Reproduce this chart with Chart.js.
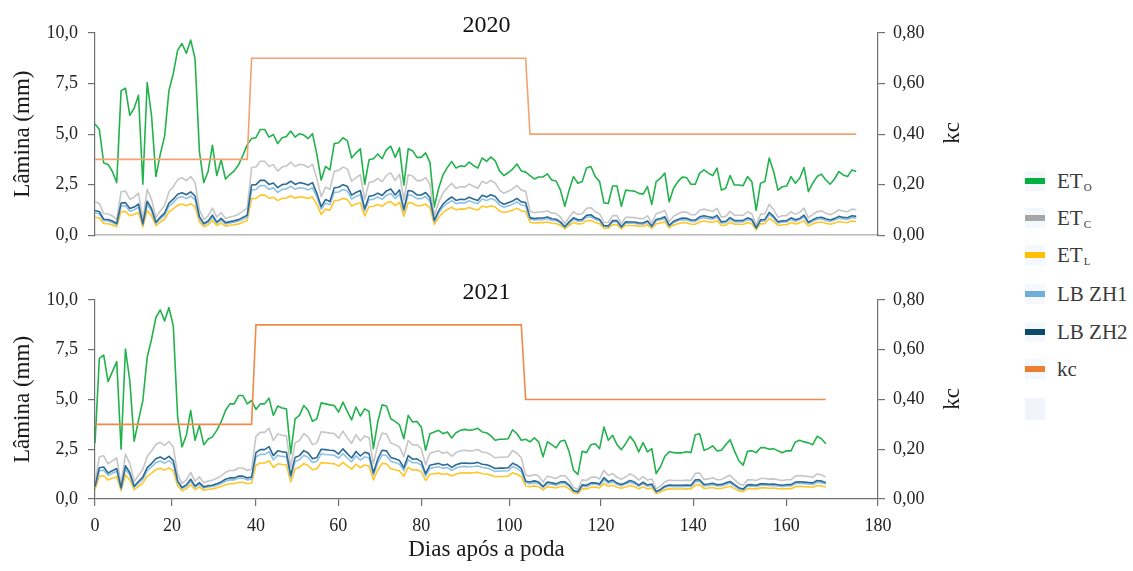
<!DOCTYPE html>
<html><head><meta charset="utf-8">
<script src="https://cdn.jsdelivr.net/npm/chart.js@4.4.1/dist/chart.umd.min.js"></script>
<style>
html,body{margin:0;padding:0;background:#fff;}
body{width:1133px;height:571px;position:relative;overflow:hidden;font-family:'Liberation Serif','Times New Roman',serif;}
.cv{position:absolute;left:0;}
.kc{position:absolute;left:951px;font-size:23px;color:#1a1a1a;transform:translate(-50%,-50%) rotate(-90deg);white-space:nowrap;line-height:1;}
.sw{position:absolute;left:1025px;width:20px;height:20px;background:#f4f8fc;}
.sw i{position:absolute;left:0;top:7px;width:20px;height:6px;display:block;}
.lt{position:absolute;left:1057px;font-size:21px;color:#3a3a3a;line-height:1;transform:translateY(-50%);white-space:nowrap;}
.lt sub{font-size:11px;vertical-align:baseline;position:relative;top:3px;margin-left:1px;}
</style></head>
<body>
<canvas id="c1" class="cv" style="top:0px" width="1000" height="256"></canvas>
<canvas id="c2" class="cv" style="top:267px" width="1000" height="304"></canvas>
<div class="kc" style="top:133px">kc</div>
<div class="kc" style="top:399px">kc</div>
<div id="legend"></div>
<script>
// ---- data ----
const xTickLabels = ['0','20','40','60','80','100','120','140','160','180'];
const xTickAt = [0,17.7,37.0,55.9,75.0,95.2,116.3,137.5,158.9,180];

const eto2020 = [5.5,5.23,3.57,3.5,3.15,2.6,7.15,7.27,5.93,6.28,
6.92,2.52,7.55,5.9,2.9,4.0,4.9,7.15,8.0,9.15,
9.48,9.0,9.65,8.73,4.15,2.6,3.15,4.45,2.95,3.73,
2.78,3.0,3.18,3.48,3.95,4.48,4.78,4.82,5.23,5.23,
4.85,4.98,4.53,4.82,4.88,5.15,4.85,5.02,4.95,4.78,
5.02,4.0,2.73,3.4,3.23,4.53,4.57,4.82,4.68,3.82,
4.07,4.27,2.52,3.73,3.78,4.02,3.78,4.23,4.4,3.85,
4.32,2.48,4.27,4.18,3.85,3.85,4.07,3.6,1.4,2.32,
2.98,3.35,3.65,3.32,3.43,3.4,3.62,3.45,3.32,3.82,
3.65,3.87,3.68,3.18,2.95,3.1,3.27,3.52,3.18,3.12,
2.95,2.78,2.88,2.88,3.03,2.73,2.68,2.23,1.43,2.23,
2.9,2.57,2.65,3.32,3.4,2.9,2.65,1.6,1.57,2.43,
2.43,1.43,2.23,2.2,2.18,2.07,2.03,2.4,1.52,2.65,
2.82,3.07,1.65,2.32,2.65,2.87,2.85,2.52,2.52,3.07,
3.23,3.07,2.95,3.32,2.23,2.32,2.95,2.48,2.48,2.45,
2.9,2.65,1.23,2.57,2.65,3.82,3.15,2.23,2.4,2.43,
2.9,2.57,2.82,3.35,2.15,2.57,2.9,3.02,2.73,2.52,
2.78,3.15,2.98,2.9,3.23,3.15];

const etc2020 = [1.65,1.57,1.07,1.05,0.95,0.78,2.15,2.18,1.78,1.88,
2.08,0.76,2.27,1.77,0.87,1.2,1.47,2.15,2.4,2.75,
2.84,2.7,2.9,2.62,1.25,0.78,0.95,1.34,0.89,1.12,
0.83,0.9,0.95,1.04,1.19,1.34,3.35,3.37,3.66,3.66,
3.4,3.49,3.17,3.37,3.42,3.61,3.4,3.51,3.47,3.35,
3.51,2.8,1.91,2.38,2.26,3.17,3.2,3.37,3.28,2.67,
2.85,2.99,1.76,2.61,2.65,2.81,2.65,2.96,3.08,2.7,
3.02,1.74,2.99,2.93,2.7,2.7,2.85,2.52,0.98,1.62,
2.09,2.35,2.56,2.32,2.4,2.38,2.53,2.42,2.32,2.67,
2.56,2.71,2.58,2.23,2.07,2.17,2.29,2.46,2.23,2.18,
1.18,1.11,1.15,1.15,1.21,1.09,1.07,0.89,0.57,0.89,
1.16,1.03,1.06,1.33,1.36,1.16,1.06,0.64,0.63,0.97,
0.97,0.57,0.89,0.88,0.87,0.83,0.81,0.96,0.61,1.06,
1.13,1.23,0.66,0.93,1.06,1.15,1.14,1.01,1.01,1.23,
1.29,1.23,1.18,1.33,0.89,0.93,1.18,0.99,0.99,0.98,
1.16,1.06,0.49,1.03,1.06,1.53,1.26,0.89,0.96,0.97,
1.16,1.03,1.13,1.34,0.86,1.03,1.16,1.21,1.09,1.01,
1.11,1.26,1.19,1.16,1.29,1.26];

const etl2020 = [0.89,0.85,0.58,0.57,0.51,0.42,1.16,1.18,0.96,1.02,
1.12,0.41,1.22,0.96,0.47,0.65,0.79,1.16,1.3,1.48,
1.54,1.46,1.56,1.41,0.67,0.42,0.51,0.72,0.48,0.6,
0.45,0.49,0.52,0.56,0.64,0.73,1.81,1.82,1.98,1.98,
1.83,1.88,1.71,1.82,1.84,1.95,1.83,1.9,1.87,1.81,
1.9,1.51,1.03,1.29,1.22,1.71,1.73,1.82,1.77,1.44,
1.54,1.61,0.95,1.41,1.43,1.52,1.43,1.6,1.66,1.46,
1.63,0.94,1.61,1.58,1.46,1.46,1.54,1.36,0.53,0.88,
1.13,1.27,1.38,1.25,1.3,1.29,1.37,1.3,1.25,1.44,
1.38,1.46,1.39,1.2,1.12,1.17,1.24,1.33,1.2,1.18,
0.64,0.6,0.62,0.62,0.65,0.59,0.58,0.48,0.31,0.48,
0.63,0.56,0.57,0.72,0.73,0.63,0.57,0.35,0.34,0.52,
0.52,0.31,0.48,0.48,0.47,0.45,0.44,0.52,0.33,0.57,
0.61,0.66,0.36,0.5,0.57,0.62,0.62,0.54,0.54,0.66,
0.7,0.66,0.64,0.72,0.48,0.5,0.64,0.54,0.54,0.53,
0.63,0.57,0.27,0.56,0.57,0.83,0.68,0.48,0.52,0.52,
0.63,0.56,0.61,0.72,0.46,0.56,0.63,0.65,0.59,0.54,
0.6,0.68,0.64,0.63,0.7,0.68];

const zh1_2020 = [1.11,1.05,0.72,0.7,0.63,0.52,1.44,1.46,1.19,1.26,
1.39,0.51,1.52,1.19,0.58,0.8,0.98,1.44,1.61,1.84,
1.91,1.81,1.94,1.75,0.83,0.52,0.63,0.89,0.59,0.75,
0.56,0.6,0.64,0.7,0.79,0.9,2.24,2.26,2.45,2.45,
2.27,2.34,2.12,2.26,2.29,2.42,2.27,2.35,2.32,2.24,
2.35,1.88,1.28,1.59,1.51,2.12,2.14,2.26,2.19,1.79,
1.91,2.0,1.18,1.75,1.77,1.89,1.77,1.98,2.06,1.81,
2.03,1.16,2.0,1.96,1.81,1.81,1.91,1.69,0.66,1.09,
1.4,1.57,1.71,1.56,1.61,1.59,1.7,1.62,1.56,1.79,
1.71,1.82,1.73,1.49,1.38,1.45,1.53,1.65,1.49,1.46,
0.79,0.75,0.77,0.77,0.81,0.73,0.72,0.6,0.38,0.6,
0.78,0.69,0.71,0.89,0.91,0.78,0.71,0.43,0.42,0.65,
0.65,0.38,0.6,0.59,0.58,0.55,0.54,0.64,0.41,0.71,
0.76,0.82,0.44,0.62,0.71,0.77,0.76,0.68,0.68,0.82,
0.87,0.82,0.79,0.89,0.6,0.62,0.79,0.66,0.66,0.66,
0.78,0.71,0.33,0.69,0.71,1.02,0.84,0.6,0.64,0.65,
0.78,0.69,0.76,0.9,0.58,0.69,0.78,0.81,0.73,0.68,
0.75,0.84,0.8,0.78,0.87,0.84];

const zh2_2020 = [1.22,1.16,0.79,0.78,0.7,0.58,1.59,1.61,1.32,1.39,
1.54,0.56,1.68,1.31,0.64,0.89,1.09,1.59,1.78,2.03,
2.1,2.0,2.14,1.94,0.92,0.58,0.7,0.99,0.65,0.83,
0.62,0.67,0.71,0.77,0.88,0.99,2.48,2.5,2.71,2.71,
2.51,2.58,2.35,2.5,2.53,2.67,2.51,2.6,2.56,2.48,
2.6,2.07,1.41,1.76,1.67,2.35,2.37,2.5,2.42,1.98,
2.11,2.21,1.31,1.93,1.96,2.08,1.96,2.19,2.28,1.99,
2.24,1.28,2.21,2.17,1.99,1.99,2.11,1.86,0.73,1.2,
1.54,1.74,1.89,1.72,1.78,1.76,1.88,1.79,1.72,1.98,
1.89,2.0,1.91,1.65,1.53,1.61,1.69,1.82,1.65,1.62,
0.87,0.82,0.85,0.85,0.9,0.81,0.79,0.66,0.42,0.66,
0.86,0.76,0.78,0.98,1.01,0.86,0.78,0.47,0.46,0.72,
0.72,0.42,0.66,0.65,0.65,0.61,0.6,0.71,0.45,0.78,
0.83,0.91,0.49,0.69,0.78,0.85,0.84,0.75,0.75,0.91,
0.96,0.91,0.87,0.98,0.66,0.69,0.87,0.73,0.73,0.73,
0.86,0.78,0.36,0.76,0.78,1.13,0.93,0.66,0.71,0.72,
0.86,0.76,0.83,0.99,0.64,0.76,0.86,0.89,0.81,0.75,
0.82,0.93,0.88,0.86,0.96,0.93];

const kc2020 = [0.3,0.3,0.3,0.3,0.3,0.3,0.3,0.3,0.3,0.3,
0.3,0.3,0.3,0.3,0.3,0.3,0.3,0.3,0.3,0.3,
0.3,0.3,0.3,0.3,0.3,0.3,0.3,0.3,0.3,0.3,
0.3,0.3,0.3,0.3,0.3,0.3,0.7,0.7,0.7,0.7,
0.7,0.7,0.7,0.7,0.7,0.7,0.7,0.7,0.7,0.7,
0.7,0.7,0.7,0.7,0.7,0.7,0.7,0.7,0.7,0.7,
0.7,0.7,0.7,0.7,0.7,0.7,0.7,0.7,0.7,0.7,
0.7,0.7,0.7,0.7,0.7,0.7,0.7,0.7,0.7,0.7,
0.7,0.7,0.7,0.7,0.7,0.7,0.7,0.7,0.7,0.7,
0.7,0.7,0.7,0.7,0.7,0.7,0.7,0.7,0.7,0.7,
0.4,0.4,0.4,0.4,0.4,0.4,0.4,0.4,0.4,0.4,
0.4,0.4,0.4,0.4,0.4,0.4,0.4,0.4,0.4,0.4,
0.4,0.4,0.4,0.4,0.4,0.4,0.4,0.4,0.4,0.4,
0.4,0.4,0.4,0.4,0.4,0.4,0.4,0.4,0.4,0.4,
0.4,0.4,0.4,0.4,0.4,0.4,0.4,0.4,0.4,0.4,
0.4,0.4,0.4,0.4,0.4,0.4,0.4,0.4,0.4,0.4,
0.4,0.4,0.4,0.4,0.4,0.4,0.4,0.4,0.4,0.4,
0.4,0.4,0.4,0.4,0.4,0.4];

const eto2021 = [2.8,7.07,7.23,5.9,6.4,6.9,2.5,7.53,5.95,2.9,
3.95,4.95,7.12,8.03,9.12,9.5,8.95,9.62,8.7,4.12,
2.62,3.2,4.45,2.95,3.7,2.73,3.0,3.12,3.45,3.87,
4.45,4.78,4.78,5.2,5.2,4.78,4.95,4.5,4.78,4.78,
5.07,4.2,4.67,4.57,4.53,2.28,4.03,4.2,4.7,4.45,
3.9,4.03,4.83,4.78,4.73,4.7,4.37,4.87,4.4,3.98,
4.62,4.17,4.53,4.4,2.53,3.87,4.73,4.67,4.03,3.9,
3.73,3.03,4.2,3.87,3.9,3.62,2.45,3.28,3.37,3.45,
3.28,3.37,3.07,3.33,3.45,3.5,3.45,3.48,3.55,3.37,
3.33,3.17,2.95,3.0,3.0,3.03,3.48,3.28,2.95,3.0,
2.87,3.07,2.87,2.12,2.87,2.73,2.57,2.9,2.95,2.37,
1.45,1.23,2.4,2.33,2.73,2.78,2.53,3.62,2.95,3.2,
2.73,2.48,2.78,3.15,2.87,2.37,2.83,2.37,2.53,1.28,
1.62,2.15,2.37,2.33,2.32,2.32,2.37,2.33,3.23,3.28,
2.45,2.53,2.67,2.42,2.45,2.73,2.98,2.42,1.92,1.7,
2.4,2.42,2.33,2.58,2.58,2.5,2.53,2.42,2.32,2.42,
2.42,2.87,2.95,2.87,2.82,2.73,3.15,3.03,2.78];

const etc2021 = [0.84,2.12,2.17,1.77,1.92,2.07,0.75,2.26,1.79,0.87,
1.19,1.49,2.14,2.41,2.74,2.85,2.69,2.89,2.61,1.24,
0.79,0.96,1.34,0.89,1.11,0.82,0.9,0.94,1.04,1.16,
1.34,1.43,1.43,1.56,1.56,1.43,1.49,3.15,3.35,3.35,
3.55,2.94,3.27,3.2,3.17,1.6,2.82,2.94,3.29,3.12,
2.73,2.82,3.38,3.35,3.31,3.29,3.06,3.41,3.08,2.79,
3.23,2.92,3.17,3.08,1.77,2.71,3.31,3.27,2.82,2.73,
2.61,2.12,2.94,2.71,2.73,2.53,1.72,2.3,2.36,2.42,
2.3,2.36,2.15,2.33,2.42,2.45,2.42,2.44,2.49,2.36,
2.33,2.22,2.07,2.1,2.1,2.12,2.44,2.3,2.07,1.2,
1.15,1.23,1.15,0.85,1.15,1.09,1.03,1.16,1.18,0.95,
0.58,0.49,0.96,0.93,1.09,1.11,1.01,1.45,1.18,1.28,
1.09,0.99,1.11,1.26,1.15,0.95,1.13,0.95,1.01,0.51,
0.65,0.86,0.95,0.93,0.93,0.93,0.95,0.93,1.29,1.31,
0.98,1.01,1.07,0.97,0.98,1.09,1.19,0.97,0.77,0.68,
0.96,0.97,0.93,1.03,1.03,1.0,1.01,0.97,0.93,0.97,
0.97,1.15,1.18,1.15,1.13,1.09,1.26,1.21,1.11];

const etl2021 = [0.45,1.15,1.17,0.96,1.04,1.12,0.41,1.22,0.96,0.47,
0.64,0.8,1.15,1.3,1.48,1.54,1.45,1.56,1.41,0.67,
0.42,0.52,0.72,0.48,0.6,0.44,0.49,0.51,0.56,0.63,
0.72,0.77,0.77,0.84,0.84,0.77,0.8,1.7,1.81,1.81,
1.92,1.59,1.77,1.73,1.71,0.86,1.52,1.59,1.78,1.68,
1.47,1.52,1.83,1.81,1.79,1.78,1.65,1.84,1.66,1.5,
1.75,1.58,1.71,1.66,0.96,1.46,1.79,1.77,1.52,1.47,
1.41,1.15,1.59,1.46,1.47,1.37,0.93,1.24,1.27,1.3,
1.24,1.27,1.16,1.26,1.3,1.32,1.3,1.32,1.34,1.27,
1.26,1.2,1.12,1.13,1.13,1.15,1.32,1.24,1.12,0.65,
0.62,0.66,0.62,0.46,0.62,0.59,0.56,0.63,0.64,0.51,
0.31,0.27,0.52,0.5,0.59,0.6,0.55,0.78,0.64,0.69,
0.59,0.54,0.6,0.68,0.62,0.51,0.61,0.51,0.55,0.28,
0.35,0.46,0.51,0.5,0.5,0.5,0.51,0.5,0.7,0.71,
0.53,0.55,0.58,0.52,0.53,0.59,0.64,0.52,0.41,0.37,
0.52,0.52,0.5,0.56,0.56,0.54,0.55,0.52,0.5,0.52,
0.52,0.62,0.64,0.62,0.61,0.59,0.68,0.65,0.6];

const zh1_2021 = [0.56,1.42,1.45,1.19,1.29,1.39,0.5,1.51,1.2,0.58,
0.79,0.99,1.43,1.61,1.83,1.91,1.8,1.93,1.75,0.83,
0.53,0.64,0.89,0.59,0.74,0.55,0.6,0.63,0.69,0.78,
0.89,0.96,0.96,1.05,1.05,0.96,0.99,2.11,2.24,2.24,
2.38,1.97,2.19,2.14,2.12,1.07,1.89,1.97,2.2,2.09,
1.83,1.89,2.27,2.24,2.22,2.2,2.05,2.28,2.06,1.87,
2.17,1.96,2.12,2.06,1.19,1.82,2.22,2.19,1.89,1.83,
1.75,1.42,1.97,1.82,1.83,1.7,1.15,1.54,1.58,1.62,
1.54,1.58,1.44,1.56,1.62,1.64,1.62,1.63,1.66,1.58,
1.56,1.49,1.38,1.41,1.41,1.42,1.63,1.54,1.38,0.8,
0.77,0.82,0.77,0.57,0.77,0.73,0.69,0.78,0.79,0.64,
0.39,0.33,0.64,0.62,0.73,0.75,0.68,0.97,0.79,0.86,
0.73,0.66,0.75,0.84,0.77,0.64,0.76,0.64,0.68,0.34,
0.43,0.58,0.64,0.62,0.62,0.62,0.64,0.62,0.87,0.88,
0.66,0.68,0.72,0.65,0.66,0.73,0.8,0.65,0.51,0.46,
0.64,0.65,0.62,0.69,0.69,0.67,0.68,0.65,0.62,0.65,
0.65,0.77,0.79,0.77,0.76,0.73,0.84,0.81,0.75];

const zh2_2021 = [0.62,1.57,1.61,1.31,1.42,1.53,0.56,1.67,1.32,0.64,
0.88,1.1,1.58,1.78,2.02,2.11,1.99,2.14,1.93,0.91,
0.58,0.71,0.99,0.65,0.82,0.61,0.67,0.69,0.77,0.86,
0.99,1.06,1.06,1.15,1.15,1.06,1.1,2.33,2.48,2.48,
2.63,2.18,2.42,2.37,2.35,1.18,2.09,2.18,2.43,2.31,
2.02,2.09,2.5,2.48,2.45,2.43,2.26,2.52,2.28,2.06,
2.39,2.16,2.35,2.28,1.31,2.0,2.45,2.42,2.09,2.02,
1.93,1.57,2.18,2.0,2.02,1.88,1.27,1.7,1.75,1.79,
1.7,1.75,1.59,1.72,1.79,1.81,1.79,1.8,1.84,1.75,
1.72,1.64,1.53,1.55,1.55,1.57,1.8,1.7,1.53,0.89,
0.85,0.91,0.85,0.63,0.85,0.81,0.76,0.86,0.87,0.7,
0.43,0.36,0.71,0.69,0.81,0.82,0.75,1.07,0.87,0.95,
0.81,0.73,0.82,0.93,0.85,0.7,0.84,0.7,0.75,0.38,
0.48,0.64,0.7,0.69,0.69,0.69,0.7,0.69,0.96,0.97,
0.73,0.75,0.79,0.72,0.73,0.81,0.88,0.72,0.57,0.5,
0.71,0.72,0.69,0.76,0.76,0.74,0.75,0.72,0.69,0.72,
0.72,0.85,0.87,0.85,0.83,0.81,0.93,0.9,0.82];

const kc2021 = [0.3,0.3,0.3,0.3,0.3,0.3,0.3,0.3,0.3,0.3,
0.3,0.3,0.3,0.3,0.3,0.3,0.3,0.3,0.3,0.3,
0.3,0.3,0.3,0.3,0.3,0.3,0.3,0.3,0.3,0.3,
0.3,0.3,0.3,0.3,0.3,0.3,0.3,0.7,0.7,0.7,
0.7,0.7,0.7,0.7,0.7,0.7,0.7,0.7,0.7,0.7,
0.7,0.7,0.7,0.7,0.7,0.7,0.7,0.7,0.7,0.7,
0.7,0.7,0.7,0.7,0.7,0.7,0.7,0.7,0.7,0.7,
0.7,0.7,0.7,0.7,0.7,0.7,0.7,0.7,0.7,0.7,
0.7,0.7,0.7,0.7,0.7,0.7,0.7,0.7,0.7,0.7,
0.7,0.7,0.7,0.7,0.7,0.7,0.7,0.7,0.7,0.4,
0.4,0.4,0.4,0.4,0.4,0.4,0.4,0.4,0.4,0.4,
0.4,0.4,0.4,0.4,0.4,0.4,0.4,0.4,0.4,0.4,
0.4,0.4,0.4,0.4,0.4,0.4,0.4,0.4,0.4,0.4,
0.4,0.4,0.4,0.4,0.4,0.4,0.4,0.4,0.4,0.4,
0.4,0.4,0.4,0.4,0.4,0.4,0.4,0.4,0.4,0.4,
0.4,0.4,0.4,0.4,0.4,0.4,0.4,0.4,0.4,0.4,
0.4,0.4,0.4,0.4,0.4,0.4,0.4,0.4,0.4];

const seriesNames = ['ETo','ETc','ETL','LB ZH1','LB ZH2','kc'];
const seriesColors = ['#22b24c','#c6c6c6','#ffc629','#90c2e5','#2c6a93'];
const legendColors = ['#00b140','#a6a6a6','#ffc000','#6eaed8','#0b4a6b','#ed7d31'];

// ---- drawing ----
const serif = "'Liberation Serif','Times New Roman',serif";
const axisColor = '#707070';
function pts(arr){ return arr.map((v,i)=>({x:i,y:v})); }

function makeChart(id, title, eto, etc, etl, zh1, zh2, kc, kcColor, showX){
  const vals = [eto, etc, etl, zh1, zh2];
  const datasets = vals.map((arr,k)=>({
    label: seriesNames[k], data: pts(arr), yAxisID:'y',
    borderColor: seriesColors[k], borderWidth: 1.6, pointRadius:0, tension:0,
    order: 6-k, borderJoinStyle:'round'
  }));
  datasets.push({label:'kc', data: pts(kc), yAxisID:'y1', borderColor: kcColor,
    borderWidth:1.6, pointRadius:0, tension:0, order:0});
  const xScale = showX ? {
    type:'linear', min:0, max:180,
    afterBuildTicks: s => { s.ticks = xTickAt.map(v=>({value:v})); },
    ticks:{autoSkip:false, maxRotation:0, font:{size:18,family:serif}, color:'#222', padding:9,
      callback:(v,i)=>xTickLabels[i]},
    grid:{drawOnChartArea:false, drawTicks:true, tickLength:7, color:axisColor, lineWidth:1.2},
    border:{display:true,color:axisColor,width:1.2},
    title:{display:true,text:'Dias após a poda',font:{size:23,family:serif},color:'#1a1a1a',padding:{top:0,bottom:0}},
    afterFit: s => { s.height = 65; }
  } : {
    type:'linear', min:0, max:180,
    ticks:{display:false},
    grid:{display:true, drawOnChartArea:false, drawTicks:false, color:'#b8b8b8'},
    border:{display:true,color:'#b8b8b8',width:1.5},
    afterFit: s => { s.height = 0; }
  };
  return new Chart(document.getElementById(id), {
    type:'line',
    data:{datasets},
    options:{
      responsive:false, animation:false, devicePixelRatio:1,
      layout:{padding:{left:0,right:0,top:0,bottom: showX ? 7 : 12}},
      plugins:{
        legend:{display:false}, tooltip:{enabled:false},
        title:{display:true, text:title, fullSize:false, color:'#111',
          font:{size:24,family:serif,weight:'normal',lineHeight:1.2}, padding:{top:11,bottom:-6.8}}
      },
      scales:{
        x: xScale,
        y:{position:'left', min:0, max:10,
          ticks:{stepSize:2.5, font:{size:18,family:serif}, color:'#222', padding:10,
            callback:v=>Number(v).toFixed(1).replace('.',',')},
          grid:{drawOnChartArea:false, drawTicks:true, tickLength:7, color:axisColor, lineWidth:1.2},
          border:{display:true,color:axisColor,width:1.2},
          title:{display:true,text:'Lâmina (mm)',font:{size:23,family:serif},color:'#1a1a1a',padding:{top:9,bottom:0}},
          afterFit: s => { s.width = 95; }
        },
        y1:{position:'right', min:0, max:0.8,
          ticks:{stepSize:0.2, font:{size:18,family:serif}, color:'#222', padding:8,
            callback:v=>Number(v).toFixed(2).replace('.',',')},
          grid:{drawOnChartArea:false, drawTicks:true, tickLength:7, color:axisColor, lineWidth:1.2},
          border:{display:true,color:axisColor,width:1.2},
          afterFit: s => { s.width = 122; }
        }
      }
    }
  });
}

makeChart('c1','2020', eto2020, etc2020, etl2020, zh1_2020, zh2_2020, kc2020, '#f4a270', false);
makeChart('c2','2021', eto2021, etc2021, etl2021, zh1_2021, zh2_2021, kc2021, '#f08a48', true);

// ---- legend (HTML, with subscripts) ----
const legendHtml = [
  'ET<sub>O</sub>','ET<sub>C</sub>','ET<sub>L</sub>','LB ZH1','LB ZH2','kc'
];
const legendY = [181,218,255,294,332,369];
let h = '';
legendHtml.forEach((t,k)=>{
  h += '<div class="sw" style="top:'+(legendY[k]-10)+'px"><i style="background:'+legendColors[k]+'"></i></div>';
  h += '<div class="lt" style="top:'+legendY[k]+'px">'+t+'</div>';
});
h += '<div class="sw" style="top:398px;height:22px;background:#f1f5fb"></div>';
document.getElementById('legend').innerHTML = h;
</script>
</body></html>
